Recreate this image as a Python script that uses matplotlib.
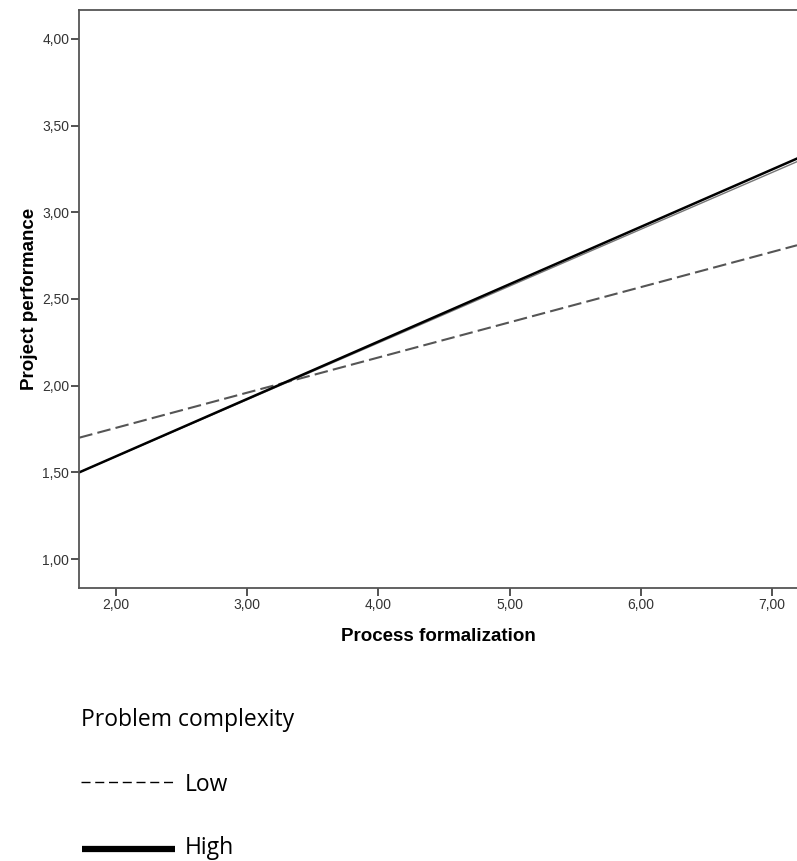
import matplotlib
matplotlib.use("Agg")
import matplotlib.pyplot as plt
from matplotlib.lines import Line2D

# Data
x_ends = [1.72, 7.19]
low_vals = [1.70, 2.81]
high_vals = [1.50, 3.31]
high_alt_vals = [1.50, 3.292]
x_ticks = [2, 3, 4, 5, 6, 7]
x_ticklabels = ["2,00", "3,00", "4,00", "5,00", "6,00", "7,00"]
y_ticks = [1.0, 1.5, 2.0, 2.5, 3.0, 3.5, 4.0]
y_ticklabels = ["1,00", "1,50", "2,00", "2,50", "3,00", "3,50", "4,00"]
legend_title = "Problem complexity"
legend_labels = ["Low", "High"]

W, H = 797, 861
fig = plt.figure(figsize=(W / 100, H / 100), dpi=100)
ax = fig.add_axes([79 / W, (H - 588) / H, 1 - 79 / W, (588 - 10) / H])

ax.plot(x_ends, low_vals, color="#555555", lw=1.5, linestyle=(0, (6.5, 2.5)))
ax.plot(x_ends, high_alt_vals, color="#777777", lw=1.0)
ax.plot(x_ends, high_vals, color="black", lw=1.8)

ax.set_xlim(1.718, 7.19)
ax.set_ylim(0.833, 4.167)
ax.set_xticks(x_ticks)
ax.set_xticklabels(x_ticklabels)
ax.set_yticks(y_ticks)
ax.set_yticklabels(y_ticklabels)

for s in ["left", "bottom", "top"]:
    ax.spines[s].set_color("#555555")
    ax.spines[s].set_linewidth(1.3)
ax.spines["right"].set_visible(False)

ax.tick_params(direction="out", length=5.5, width=1.3, color="#444444",
               labelcolor="#333333", labelsize=10, pad=1.5)
for lab in ax.get_xticklabels() + ax.get_yticklabels():
    lab.set_family("Liberation Sans")

ax.set_xlabel("Process formalization", fontsize=13.5, fontweight="bold",
              family="Liberation Sans", labelpad=12)
ax.set_ylabel("Project performance", fontsize=13.5, fontweight="bold",
              family="Liberation Sans", labelpad=3)

# Legend (outside axes)
def fx(px):
    return px / W

def fy(py):
    return 1 - py / H

fs_leg = 16.5
fig.text(fx(81), fy(726), legend_title, fontsize=fs_leg, family="Open Sans",
         va="baseline", ha="left")
fig.add_artist(Line2D([fx(81), fx(174)], [fy(782), fy(782)], color="black",
                      lw=1.0, linestyle=(0, (6.5, 3.4))))
fig.text(fx(185), fy(791), legend_labels[0], fontsize=fs_leg, family="Open Sans",
         va="baseline", ha="left")
fig.add_artist(Line2D([fx(82), fx(175)], [fy(849), fy(849)], color="black",
                      lw=4.5, solid_capstyle="butt"))
fig.text(fx(185), fy(854), legend_labels[1], fontsize=fs_leg, family="Open Sans",
         va="baseline", ha="left")

fig.savefig("out.png", dpi=100)
